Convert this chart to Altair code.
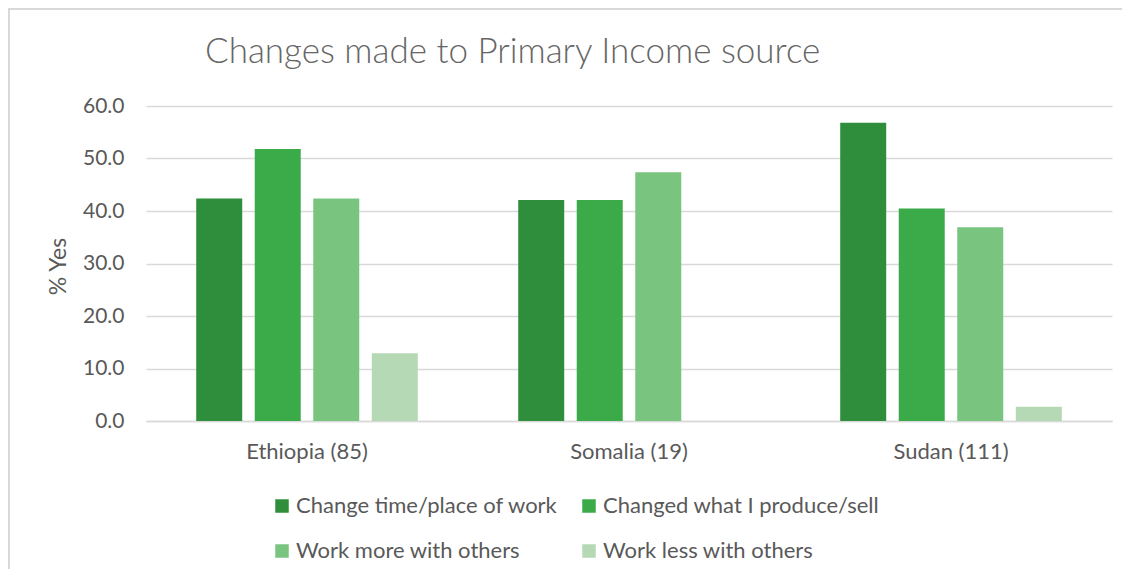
import altair as alt
import pandas as pd

chart_title = "Changes made to Primary Income source"
countries = ["Ethiopia (85)", "Somalia (19)", "Sudan (111)"]
series = [
    "Change time/place of work",
    "Changed what I produce/sell",
    "Work more with others",
    "Work less with others",
]
change_time_place = [42.4, 42.1, 56.8]
changed_produce = [51.8, 42.1, 40.5]
work_more = [42.4, 47.4, 36.9]
work_less = [12.9, 0.0, 2.7]
colors = ["#2e8e3b", "#3bab4a", "#79c47f", "#b4d9b4"]
y_ticks = [0, 10, 20, 30, 40, 50, 60]

rows = []
for s, vals in zip(series, [change_time_place, changed_produce, work_more, work_less]):
    for c, v in zip(countries, vals):
        rows.append({"country": c, "series": s, "value": v})
df = pd.DataFrame(rows)

# legend lays out column by column: reorder so rows read like the reference
legend_order = [series[0], series[2], series[1], series[3]]
legend_colors = [colors[0], colors[2], colors[1], colors[3]]

FONT = "Lato"
GREY = "#595959"

bars = alt.Chart(df).mark_bar().encode(
    x=alt.X(
        "country:N",
        sort=countries,
        title=None,
        scale=alt.Scale(paddingInner=0.273, paddingOuter=0.1365),
        axis=alt.Axis(
            labelAngle=0,
            labelPadding=20,
            ticks=False,
            domainColor="#d9d9d9",
            domainWidth=1.5,
            labelFontSize=22,
            labelColor=GREY,
            labelFont=FONT,
        ),
    ),
    xOffset=alt.XOffset(
        "series:N",
        sort=series,
        scale=alt.Scale(paddingInner=0.214, paddingOuter=0.107),
    ),
    y=alt.Y(
        "value:Q",
        scale=alt.Scale(domain=[0, 60], nice=False),
        axis=alt.Axis(
            values=y_ticks,
            format=".1f",
            title="% Yes",
            titleFont=FONT,
            titleFontSize=23,
            titleFontWeight="normal",
            titleColor=GREY,
            titleX=-76,
            titleY=160,
            titleBaseline="bottom",
            labelFontSize=21,
            labelColor=GREY,
            labelFont=FONT,
            labelPadding=22,
            ticks=False,
            domain=False,
            gridColor="#d9d9d9",
            gridWidth=1.5,
        ),
    ),
    color=alt.Color(
        "series:N",
        scale=alt.Scale(domain=legend_order, range=legend_colors),
        legend=alt.Legend(
            orient="none",
            legendX=125,
            legendY=389,
            columns=2,
            title=None,
            symbolType="square",
            symbolSize=182,
            symbolStrokeWidth=0,
            labelFontSize=22,
            labelFont=FONT,
            labelColor=GREY,
            labelOffset=3,
            columnPadding=20,
            rowPadding=23,
            padding=0,
            labelLimit=0,
        ),
    ),
)

border = alt.Chart(pd.DataFrame({"a": [0]})).mark_rect(
    fill="transparent", stroke="#d9d9d9", strokeWidth=2
).encode(
    x=alt.value(-137), x2=alt.value(1200), y=alt.value(-97), y2=alt.value(700)
)

title_mark = alt.Chart(pd.DataFrame({"t": [chart_title]})).mark_text(
    align="left", baseline="middle", font=FONT, fontSize=35, fontWeight=300,
    color="#666666"
).encode(
    text="t:N", x=alt.value(59), y=alt.value(-54)
)

chart = alt.layer(border, bars, title_mark).properties(
    width=966,
    height=315,
    autosize=alt.AutoSizeParams(type="none"),
    padding={"left": 138, "top": 98, "right": 10, "bottom": 148},
).configure_view(stroke="transparent")

chart.save("out.html", embed_options={"renderer": "svg", "actions": False})
